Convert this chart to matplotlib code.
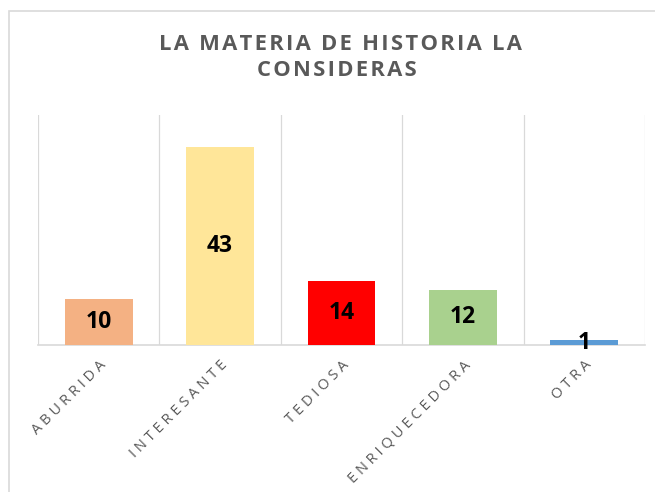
import matplotlib
matplotlib.use("Agg")
import matplotlib.pyplot as plt
from matplotlib.patches import Rectangle

title_lines = ["LA MATERIA DE HISTORIA LA", "CONSIDERAS"]
categories = ["ABURRIDA", "INTERESANTE", "TEDIOSA", "ENRIQUECEDORA", "OTRA"]
values = [10, 43, 14, 12, 1]
colors = ["#F4B183", "#FFE699", "#FF0000", "#A9D18E", "#5B9BD5"]

plt.rcParams['font.family'] = ['Open Sans', 'DejaVu Sans']


def spaced(s, sep):
    # letter-spacing as in the original chart
    return sep.join(s)


fig = plt.figure(figsize=(6.55, 4.92), dpi=100)
fig.patch.set_facecolor("white")

# chart-area border (left and top visible)
fig.patches.append(Rectangle((9/655, -0.1), 1.2, (1 - 11/492) + 0.1,
                             transform=fig.transFigure, fill=False,
                             edgecolor="#D9D9D9", linewidth=1.2))

ax = fig.add_axes([38/655, 1 - 345/492, (645 - 38)/655, (345 - 115)/492])
x = list(range(len(categories)))
bars = ax.bar(x, values, width=0.56, color=colors, zorder=3)
ax.set_xlim(-0.5, len(categories) - 0.5)
ax.set_ylim(0, 50)

for b, v in zip(bars, values):
    ax.text(b.get_x() + b.get_width() / 2, v / 2, str(v), ha="center", va="center",
            fontsize=16.5, fontweight="bold", color="black", zorder=4)

for xv in [i - 0.5 for i in range(len(categories) + 1)]:
    ax.axvline(xv, color="#D9D9D9", linewidth=0.9, zorder=1)

for s in ["top", "right", "left"]:
    ax.spines[s].set_visible(False)
ax.spines["bottom"].set_color("#D9D9D9")
ax.spines["bottom"].set_linewidth(1.2)
ax.set_yticks([])
ax.set_xticks(x)
ax.set_xticklabels([spaced(c, "\u2009\u200a") for c in categories], rotation=45,
                   ha="right", rotation_mode="anchor",
                   fontsize=10.5, color="#595959")
ax.tick_params(axis="x", length=0, pad=9)

fig.text(340/655, 1 - 44.5/492, spaced(title_lines[0], "\u200a"), ha="center",
         va="center", fontsize=15.8, fontweight="bold", color="#595959")
fig.text(337/655, 1 - 71/492, spaced(title_lines[1], "\u200a"), ha="center",
         va="center", fontsize=15.8, fontweight="bold", color="#595959")

fig.savefig("out.png", dpi=100)
